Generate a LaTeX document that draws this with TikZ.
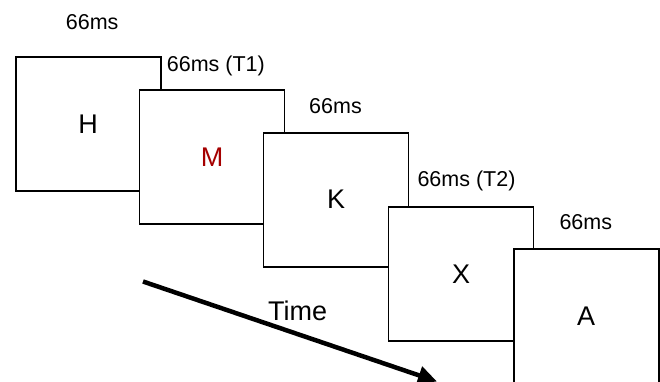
\documentclass[tikz,border=0pt]{standalone}
\usepackage{fontspec}
\setmainfont{Liberation Sans}
\usetikzlibrary{arrows.meta}
\definecolor{stimred}{RGB}{165,0,0}
\tikzset{
  frame/.style={draw=black, fill=white, line width=1.8pt, minimum width=145pt, minimum height=134pt, inner sep=0pt, font=\fontsize{27}{30}\selectfont},
  durlabel/.style={anchor=base west, inner sep=0pt, font=\fontsize{21.5}{25}\selectfont},
  timelabel/.style={anchor=base west, inner sep=0pt, font=\fontsize{27}{30}\selectfont},
  timearrow/.style={line width=4.5pt, -{Triangle[length=19pt,width=18pt]}}
}
\begin{document}
\begin{tikzpicture}[x=1pt,y=-1pt]
\useasboundingbox (0,0) rectangle (660,382);
\clip (0,0) rectangle (660,382);
\node[frame] (b1) at (88.2,124.2) {H};
\node[frame] (b2) at (212,157.3) {\textcolor{stimred}{M}};
\node[frame] (b3) at (336,199.7) {K};
\node[frame] (b4) at (461,274) {X};
\node[frame] (b5) at (586.2,316) {A};
\node[durlabel] (l1) at (65.7,29.3) {66ms};
\node[durlabel] (l2) at (166.7,71.3) {66ms (T1)};
\node[durlabel] (l3) at (309,113.3) {66ms};
\node[durlabel] (l4) at (417.3,186.7) {66ms (T2)};
\node[durlabel] (l5) at (559.3,229) {66ms};
\node[timelabel] (tl) at (268,320) {Time};
\coordinate (ts) at (143,281.5);
\coordinate (te) at (437,381.5);
\draw[timearrow] (ts) -- (te);
\end{tikzpicture}
\end{document}
